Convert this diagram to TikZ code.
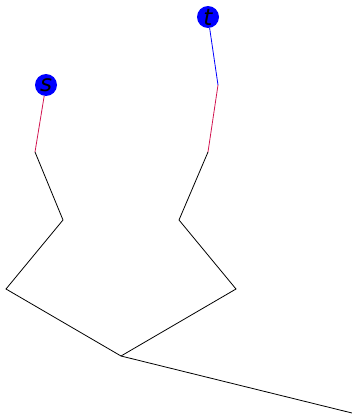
\documentclass[tikz,border=0pt]{standalone}
\usepackage{fontspec}
\newfontfamily\termfont{DejaVu Sans Oblique}
\definecolor{edgered}{RGB}{210,20,80}
\begin{document}
\begin{tikzpicture}[x=1pt,y=-1pt,
  term/.style={circle,fill=blue,inner sep=0pt,minimum size=22pt},
  termtext/.style={font=\termfont\fontsize{23}{23}\selectfont,inner sep=0pt},
  seg/.style={line width=0.8pt,black},
  redseg/.style={line width=0.8pt,edgered},
  blueseg/.style={line width=0.8pt,blue}]
\useasboundingbox (0,0) rectangle (352,415);
\coordinate (a1) at (35,152);
\coordinate (a2) at (63,220);
\coordinate (a3) at (6,289);
\coordinate (m) at (121,356);
\coordinate (e) at (352,413);
\coordinate (b1) at (218,85);
\coordinate (b2) at (208,152);
\coordinate (b3) at (179,220);
\coordinate (b4) at (236,289);
\node[term,label={[termtext]center:s}] (s) at (46,85) {};
\node[term,label={[termtext]center:t}] (t) at (208,17) {};
\draw[redseg] (s) -- (a1);
\draw[seg] (a1) -- (a2) -- (a3) -- (m) -- (e);
\draw[blueseg] (t) -- (b1);
\draw[redseg] (b1) -- (b2);
\draw[seg] (b2) -- (b3) -- (b4) -- (m);
\end{tikzpicture}
\end{document}
